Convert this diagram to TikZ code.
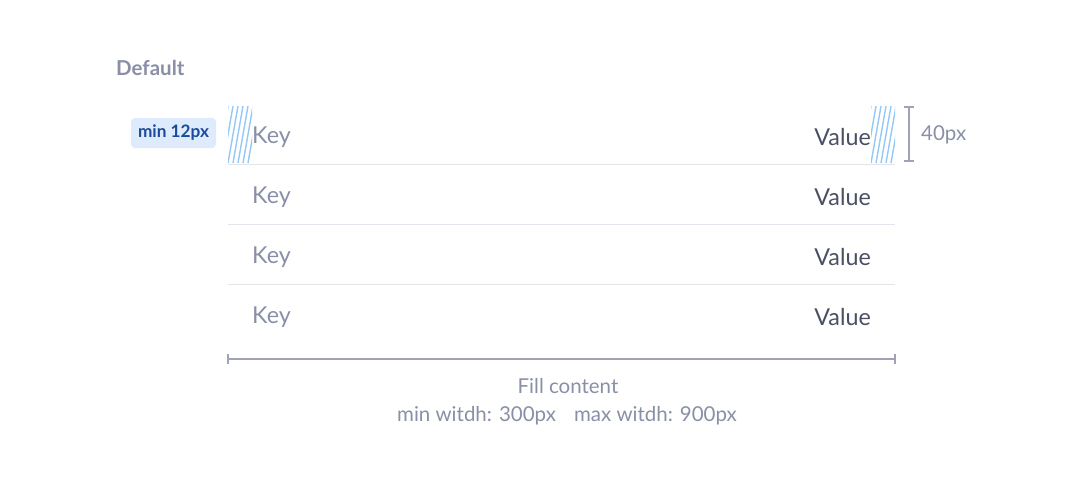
\documentclass[tikz,border=0pt]{standalone}
\usepackage{fontspec}
\setmainfont{Lato}
\definecolor{labelgray}{HTML}{8A8FA8}
\definecolor{valuedark}{HTML}{4A4F63}
\definecolor{rulegray}{HTML}{E3E4EC}
\definecolor{dimgray}{HTML}{A0A3B8}
\definecolor{badgefill}{HTML}{DDEBFD}
\definecolor{badgetext}{HTML}{1B4B9B}
\definecolor{hatchblue}{HTML}{96C8F7}
\begin{document}
\begin{tikzpicture}[x=1pt,y=-1pt,
  keytext/.style={anchor=west,text=labelgray,font=\fontsize{23.3}{28}\selectfont,inner sep=0pt},
  valtext/.style={anchor=east,text=valuedark,font=\fontsize{23.3}{28}\selectfont,inner sep=0pt},
  rowrule/.style={draw=rulegray,line width=1pt},
  dimline/.style={draw=dimgray,line width=1.5pt},
  notetext/.style={text=labelgray,font=\fontsize{20.5}{24}\selectfont,inner sep=0pt}]
\useasboundingbox (0,0) rectangle (1083,483);
\fill[white] (0,0) rectangle (1083,483);
% title
\node[anchor=west,text=labelgray,font=\fontsize{20.5}{24}\selectfont\bfseries,inner sep=0pt] (title) at (116,68) {Default};
% badge
\node[fill=badgefill,rounded corners=4pt,text=badgetext,font=\fontsize{17.2}{20}\selectfont\bfseries,minimum width=85pt,minimum height=30pt,inner sep=0pt] (badge) at (173.5,133) {min 12px};
% hatched paddings
\foreach \xa/\nm in {228/hl,871/hr}{
  \coordinate (\nm) at (\xa,106);
  \begin{scope}
    \clip (\xa,106) rectangle ++(24,57);
    \foreach \k in {-15,-10,...,30}{
      \draw[hatchblue,line width=1.4pt] (\xa+\k,163) -- ++(10,-57);
    }
  \end{scope}
}
% rows
\foreach \yc/\i in {137/1,197/2,257/3,317/4}{
  \node[keytext] (key\i) at (252,\yc) {Key};
  \node[valtext] (val\i) at (871,\yc) {Value};
}
\foreach \yl/\i in {164/1,224/2,284/3}{
  \coordinate (rl\i) at (228,\yl);
  \coordinate (rr\i) at (895,\yl);
  \draw[rowrule] (rl\i) -- (rr\i);
}
% 40px dimension
\coordinate (vt) at (909,107);
\coordinate (vb) at (909,161);
\draw[dimline] (vt) -- (vb);
\draw[dimline] ([xshift=-5pt]vt) -- ([xshift=5pt]vt);
\draw[dimline] ([xshift=-5pt]vb) -- ([xshift=5pt]vb);
\node[notetext,anchor=west] (h40) at (921,135) {40px};
% width dimension
\coordinate (wl) at (228,359);
\coordinate (wr) at (895,359);
\draw[dimline] (wl) -- (wr);
\draw[dimline] ([yshift=-5pt]wl) -- ([yshift=5pt]wl);
\draw[dimline] ([yshift=-5pt]wr) -- ([yshift=5pt]wr);
\node[notetext] (fill) at (568,386) {Fill content};
\node[notetext] (minmax) at (567,416) {min witdh: 300px\hspace{18pt}max witdh: 900px};
\end{tikzpicture}
\end{document}
